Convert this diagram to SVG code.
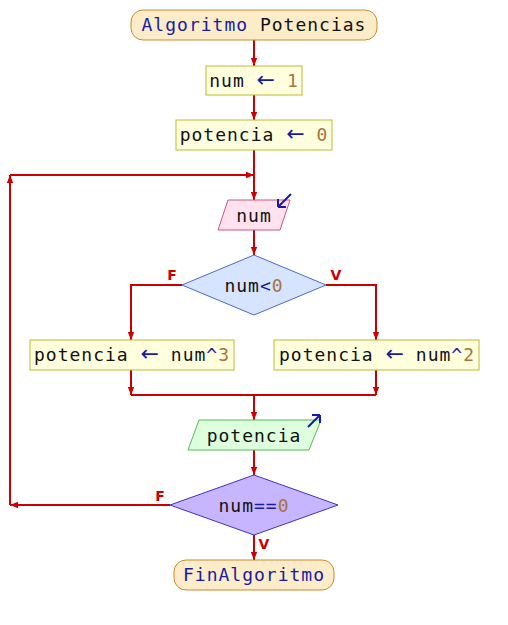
<svg xmlns="http://www.w3.org/2000/svg" width="508" height="625" viewBox="0 0 508 625">
<defs>
<style>
text{font-family:"DejaVu Sans Mono","Liberation Mono",monospace;font-size:18px;letter-spacing:1px;fill:#111;text-anchor:middle}
.k{fill:#1a1aa6}.n{fill:#a8733a}
.ar{fill:#1a1aa6;font-family:"DejaVu Sans","Liberation Sans",sans-serif;font-size:22px;letter-spacing:0}
.lbl{font-family:"DejaVu Sans","Liberation Sans",sans-serif;font-size:14px;font-weight:bold;fill:#cc0000;letter-spacing:0}
.term{fill:#fdecc8;stroke:#c98a2e;stroke-width:1}
.box{fill:#ffffdd;stroke:#bbbb33;stroke-width:1}
.in{fill:#ffe2ee;stroke:#c9558a;stroke-width:1}
.out{fill:#ddffdd;stroke:#55bb55;stroke-width:1}
.d1{fill:#d6e4ff;stroke:#4a6ad0;stroke-width:1}
.d2{fill:#c8b5ff;stroke:#3d33c8;stroke-width:1}
.c{fill:none;stroke:#cc0000;stroke-width:2}
.io{fill:none;stroke:#1a1aa6;stroke-width:2}
</style>
<marker id="a" viewBox="0 0 10 10" refX="10" refY="5" markerWidth="8" markerHeight="8" orient="auto" markerUnits="userSpaceOnUse"><path d="M0,1 L10,5 L0,9 z" fill="#cc0000"/></marker>
</defs>
<g id="connectors">
<path class="c" d="M254,40 V66" marker-end="url(#a)"/>
<path class="c" d="M254,95 V120" marker-end="url(#a)"/>
<path class="c" d="M254,150 V200" marker-end="url(#a)"/>
<path class="c" d="M10,175 H254" marker-end="url(#a)"/>
<path class="c" d="M254,230 V255" marker-end="url(#a)"/>
<path class="c" d="M182,285 H131 V340" marker-end="url(#a)"/>
<path class="c" d="M326,285 H376 V340" marker-end="url(#a)"/>
<path class="c" d="M131,370 V395" marker-end="url(#a)"/>
<path class="c" d="M376,370 V395" marker-end="url(#a)"/>
<path class="c" d="M131,395 H376"/>
<path class="c" d="M254,395 V420" marker-end="url(#a)"/>
<path class="c" d="M254,450 V475" marker-end="url(#a)"/>
<path class="c" d="M170,505 H10" marker-end="url(#a)"/>
<path class="c" d="M10,505 V175" marker-end="url(#a)"/>
<path class="c" d="M254,535 V560" marker-end="url(#a)"/>
<text class="lbl" x="172" y="280">F</text>
<text class="lbl" x="336" y="280">V</text>
<text class="lbl" x="160" y="501">F</text>
<text class="lbl" x="264" y="549">V</text>
</g>
<g id="start">
<rect class="term" x="131" y="10" width="246" height="30" rx="12"/>
<text x="254" y="31"><tspan class="k">Algoritmo</tspan> Potencias</text>
</g>
<g id="assign1">
<rect class="box" x="206" y="66" width="96" height="29"/>
<text x="254" y="87">num <tspan class="ar">←</tspan> <tspan class="n">1</tspan></text>
</g>
<g id="assign2">
<rect class="box" x="176" y="120" width="156" height="30"/>
<text x="254" y="141">potencia <tspan class="ar">←</tspan> <tspan class="n">0</tspan></text>
</g>
<g id="read">
<path class="in" d="M228,200 H290 L280,230 H218 Z"/>
<text x="254" y="222">num</text>
<path class="io" d="M291,194 L278,207 M278,207 V199 M278,207 H286"/>
</g>
<g id="cond1">
<path class="d1" d="M254,255 L326,285 L254,315 L182,285 Z"/>
<text x="254" y="292">num<tspan class="k">&lt;</tspan><tspan class="n">0</tspan></text>
</g>
<g id="assignF">
<rect class="box" x="30" y="340" width="204" height="30"/>
<text x="132" y="361">potencia <tspan class="ar">←</tspan> num<tspan class="k">^</tspan><tspan class="n">3</tspan></text>
</g>
<g id="assignV">
<rect class="box" x="274" y="340" width="205" height="30"/>
<text x="377" y="361">potencia <tspan class="ar">←</tspan> num<tspan class="k">^</tspan><tspan class="n">2</tspan></text>
</g>
<g id="write">
<path class="out" d="M199,420 H321 L309,450 H188 Z"/>
<text x="254" y="442">potencia</text>
<path class="io" d="M308,427 L320,415 M320,415 H312 M320,415 V423"/>
</g>
<g id="cond2">
<path class="d2" d="M254,475 L338,505 L254,535 L170,505 Z"/>
<text x="254" y="512">num<tspan class="k">==</tspan><tspan class="n">0</tspan></text>
</g>
<g id="end">
<rect class="term" x="174" y="560" width="160" height="30" rx="12"/>
<text x="254" y="581" class="k">FinAlgoritmo</text>
</g>
</svg>
